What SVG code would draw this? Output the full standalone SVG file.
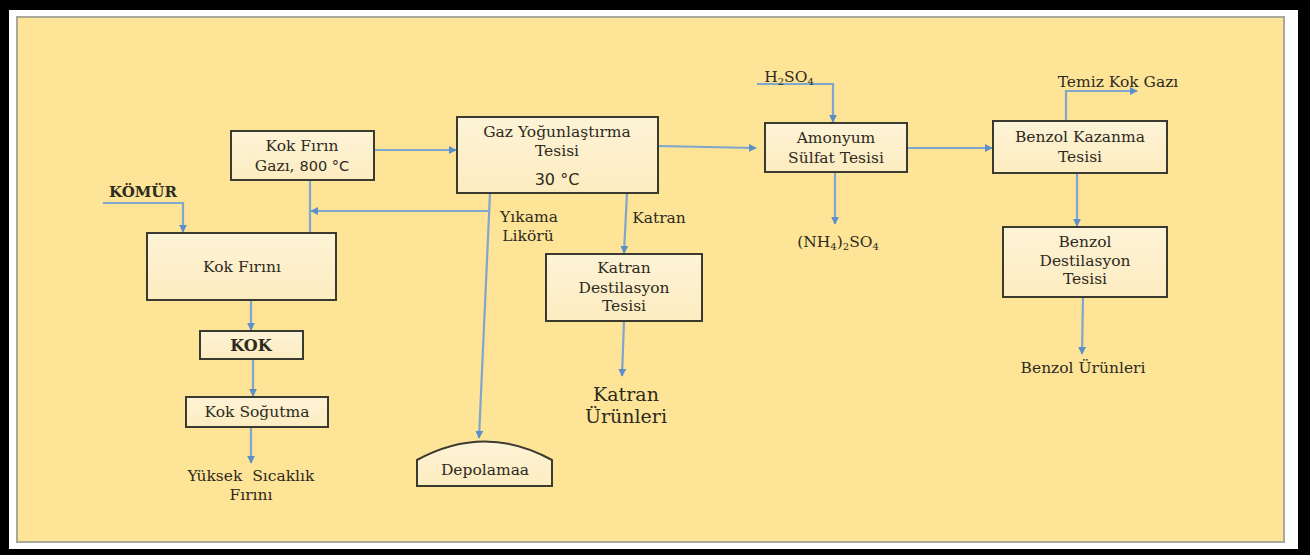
<svg xmlns="http://www.w3.org/2000/svg" width="1310" height="555" viewBox="0 0 1310 555">
<defs>
<style>
.box{fill:#fdf1cf;stroke:#3b3a30;stroke-width:2}
.t{font-family:"DejaVu Serif",serif;font-size:15.5px;fill:#2e2a1e;text-anchor:middle}
.b{font-weight:bold}
.s{font-family:"DejaVu Sans","Liberation Sans",sans-serif}
.ln{fill:none;stroke:#7fa6cd;stroke-width:2.2}
.ar{fill:none;stroke:#7fa6cd;stroke-width:2.2;marker-end:url(#ah)}
</style>
<marker id="ah" viewBox="0 0 10 10" refX="9" refY="5" markerWidth="3.6" markerHeight="3.6" orient="auto" markerUnits="strokeWidth">
<path d="M0,0 L10,5 L0,10 z" fill="#5b8fc7"/>
</marker>
<linearGradient id="bg" x1="0" y1="0" x2="0" y2="1">
<stop offset="0" stop-color="#fdf3d6"/>
<stop offset="1" stop-color="#fcecc0"/>
</linearGradient>
</defs>
<rect x="0" y="0" width="1310" height="555" fill="#000"/>
<rect x="9" y="10" width="1289" height="539" fill="#fff"/>
<rect x="17" y="17" width="1267" height="525" fill="#fde496" stroke="#a9a89a" stroke-width="2"/>

<g id="connectors">
<path class="ar" d="M103,203 H183 V232"/>
<path class="ln" d="M310,180 V233"/>
<path class="ar" d="M488,211 H311"/>
<path class="ar" d="M374,150 H456"/>
<path class="ar" d="M490,193 L479,438"/>
<path class="ar" d="M627,193 L624,253"/>
<path class="ar" d="M624,321 L622,376"/>
<path class="ar" d="M658,146 L756,148"/>
<path class="ar" d="M757,84 H833 V122"/>
<path class="ar" d="M835,172 V224"/>
<path class="ar" d="M907,148 H992"/>
<path class="ar" d="M1066,121 V91 H1137"/>
<path class="ar" d="M1077,173 V226"/>
<path class="ar" d="M1083,297 L1082,354"/>
<path class="ar" d="M251,300 V330"/>
<path class="ar" d="M253,359 V396"/>
<path class="ar" d="M251,427 V463"/>
</g>

<g id="komur"><text class="t b" x="143" y="197" style="font-size:15px">KÖMÜR</text></g>

<g id="kok-firin-gazi">
<rect class="box" x="231" y="131" width="143" height="49" style="fill:url(#bg)"/>
<text class="t" x="302" y="151">Kok Fırın</text>
<text class="t" x="302" y="171">Gazı, <tspan class="s" style="font-size:14.5px">800 °C</tspan></text>
</g>

<g id="kok-firini">
<rect class="box" x="147" y="233" width="189" height="67" style="fill:url(#bg)"/>
<text class="t" x="242" y="272">Kok Fırını</text>
</g>

<g id="kok">
<rect class="box" x="200" y="331" width="103" height="28" style="fill:url(#bg)"/>
<text class="t b" x="251" y="351" style="font-size:16px">KOK</text>
</g>

<g id="kok-sogutma">
<rect class="box" x="186" y="397" width="142" height="30" style="fill:url(#bg)"/>
<text class="t" x="257" y="417">Kok Soğutma</text>
</g>

<g id="yuksek"><text class="t" x="251" y="481" xml:space="preserve">Yüksek  Sıcaklık</text><text class="t" x="251" y="500">Fırını</text></g>

<g id="gaz-yogunlastirma">
<rect class="box" x="457" y="117" width="201" height="76" style="fill:url(#bg)"/>
<text class="t" x="557" y="137">Gaz Yoğunlaştırma</text>
<text class="t" x="557" y="156">Tesisi</text>
<text class="t s" x="557" y="185" style="font-size:16px">30 °C</text>
</g>

<g id="yikama"><text class="t" x="529" y="222">Yıkama</text><text class="t" x="528" y="241">Likörü</text></g>
<g id="katran-lbl"><text class="t" x="659" y="223">Katran</text></g>

<g id="katran-destilasyon">
<rect class="box" x="546" y="254" width="156" height="67" style="fill:url(#bg)"/>
<text class="t" x="624" y="273">Katran</text>
<text class="t" x="624" y="293">Destilasyon</text>
<text class="t" x="624" y="311">Tesisi</text>
</g>

<g id="katran-urunleri"><text class="t" x="626" y="401" style="font-size:19px">Katran</text><text class="t" x="626" y="423" style="font-size:19px">Ürünleri</text></g>

<g id="depolama">
<path class="box" d="M417,486 V460 Q485,423 552,460 V486 Z" style="fill:url(#bg)"/>
<text class="t" x="485" y="475">Depolamaa</text>
</g>

<g id="h2so4"><text class="t" x="789" y="82">H<tspan dy="3" font-size="10">2</tspan><tspan dy="-3">SO</tspan><tspan dy="3" font-size="10">4</tspan></text></g>

<g id="amonyum">
<rect class="box" x="765" y="123" width="142" height="49" style="fill:url(#bg)"/>
<text class="t" x="836" y="143">Amonyum</text>
<text class="t" x="836" y="163">Sülfat Tesisi</text>
</g>

<g id="nh4"><text class="t" x="838" y="247">(NH<tspan dy="3" font-size="10">4</tspan><tspan dy="-3">)</tspan><tspan dy="3" font-size="10">2</tspan><tspan dy="-3">SO</tspan><tspan dy="3" font-size="10">4</tspan></text></g>

<g id="temiz"><text class="t" x="1118" y="87">Temiz Kok Gazı</text></g>

<g id="benzol-kazanma">
<rect class="box" x="993" y="121" width="174" height="52" style="fill:url(#bg)"/>
<text class="t" x="1080" y="142">Benzol Kazanma</text>
<text class="t" x="1080" y="162">Tesisi</text>
</g>

<g id="benzol-destilasyon">
<rect class="box" x="1003" y="227" width="164" height="70" style="fill:url(#bg)"/>
<text class="t" x="1085" y="247">Benzol</text>
<text class="t" x="1085" y="266">Destilasyon</text>
<text class="t" x="1085" y="284">Tesisi</text>
</g>

<g id="benzol-urunleri"><text class="t" x="1083" y="373">Benzol Ürünleri</text></g>
</svg>
